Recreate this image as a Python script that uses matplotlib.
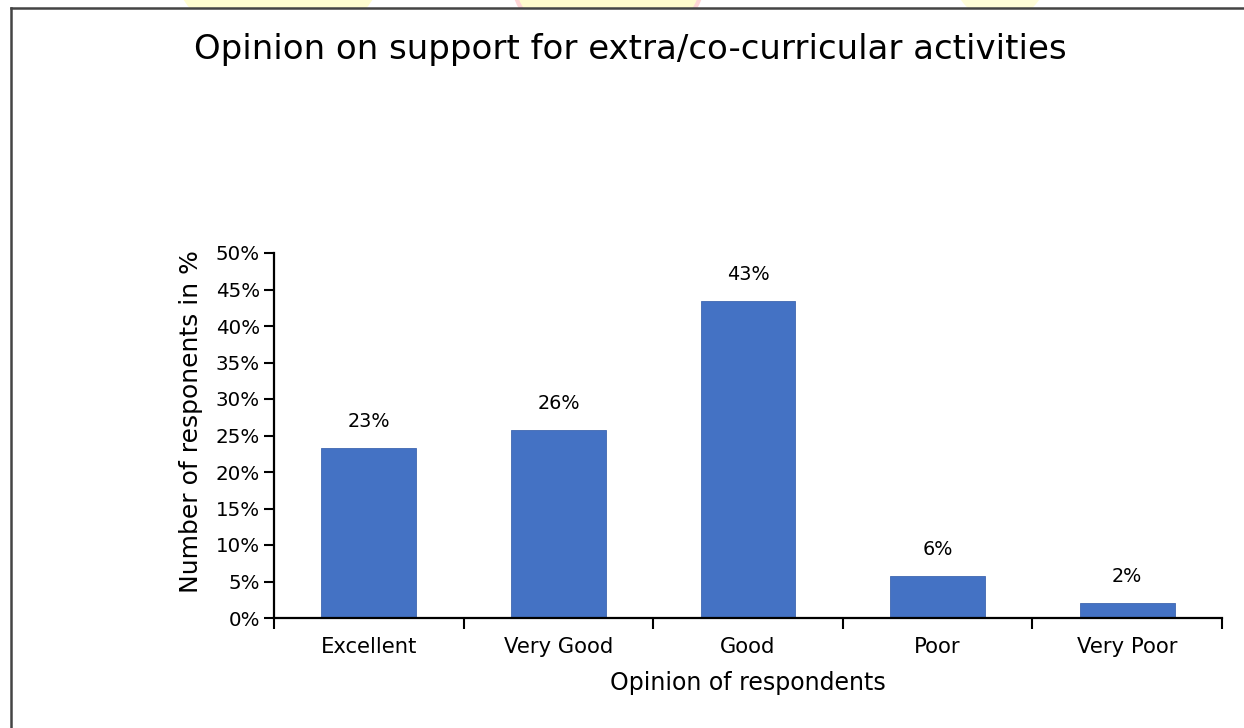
import matplotlib
matplotlib.use("Agg")
import matplotlib.pyplot as plt
from matplotlib.patches import Ellipse, Rectangle
from matplotlib.lines import Line2D
import numpy as np

categories = ["Excellent", "Very Good", "Good", "Poor", "Very Poor"]
values = [23.3, 25.7, 43.4, 5.7, 2.0]
labels = ["23%", "26%", "43%", "6%", "2%"]
yticks = [0, 5, 10, 15, 20, 25, 30, 35, 40, 45, 50]

plt.rcParams['font.family'] = ['DejaVu Sans']

W, H = 1244, 728
fig = plt.figure(figsize=(W / 100, H / 100), dpi=100)
fig.patch.set_facecolor("white")

# decorative watermark shapes peeking above the frame
clip = Rectangle((0, 1 - 7.5 / H), 1, 7.5 / H, transform=fig.transFigure,
                 facecolor="none", edgecolor="none")
fig.add_artist(clip)
for cx, w, h, fc, ec in [(278, 200, 60, "#fffdd0", "none"),
                         (608, 190, 70, "#fffbcc", "#ffd6d6"),
                         (1000, 90, 40, "#fffdd8", "none")]:
    e = Ellipse((cx / W, 1 - (-20) / H), w / W, h / H * 2, transform=fig.transFigure,
                facecolor=fc, edgecolor=ec, lw=3, zorder=0)
    fig.add_artist(e)
    e.set_clip_path(clip)

# frame lines (top and left)
fig.add_artist(Line2D([11 / W, 1.0], [1 - 7.5 / H, 1 - 7.5 / H], transform=fig.transFigure,
                      color="#444444", lw=1.8, zorder=1))
fig.add_artist(Line2D([11 / W, 11 / W], [0, 1 - 7.5 / H], transform=fig.transFigure,
                      color="#444444", lw=1.8, zorder=1))

ax = fig.add_axes([274 / W, 1 - 618 / H, (1222 - 274) / W, (618 - 253) / H])
x = np.arange(len(categories))
bars = ax.bar(x, values, width=0.5, color="#4472C4", edgecolor="#3f67b0", linewidth=0.6, zorder=2)

for xi, v, lab in zip(x, values, labels):
    ax.annotate(lab, (xi, v), xytext=(0, 17), textcoords="offset pixels",
                ha="center", va="bottom", fontsize=13.8, color="black")

ax.set_xlim(-0.5, len(categories) - 0.5)
ax.set_ylim(0, 50)
ax.set_yticks(yticks)
ax.set_yticklabels([f"{t}%" for t in yticks], fontsize=14.3)

ax.set_xticks(np.arange(len(categories) + 1) - 0.5)
ax.set_xticklabels([])
ax.set_xticks(x, minor=True)
ax.set_xticklabels(categories, minor=True, fontsize=15.2)
ax.tick_params(axis="x", which="major", length=8, width=1.5, direction="out")
ax.tick_params(axis="x", which="minor", length=0, pad=14)
ax.tick_params(axis="y", length=7, width=1.5, direction="out", pad=3)

for s in ["top", "right"]:
    ax.spines[s].set_visible(False)
for s in ["left", "bottom"]:
    ax.spines[s].set_linewidth(1.6)
    ax.spines[s].set_color("black")

ax.set_ylabel("Number of responents in %", fontsize=18)
ax.yaxis.set_label_coords((203 - 274) / 948, (618 - 422) / 365)
ax.set_xlabel("Opinion of respondents", fontsize=17, labelpad=10)

fig.text(630 / W, 1 - 50 / H, "Opinion on support for extra/co-curricular activities",
         ha="center", va="center", fontsize=24.5)

fig.savefig("out.png", dpi=100)
